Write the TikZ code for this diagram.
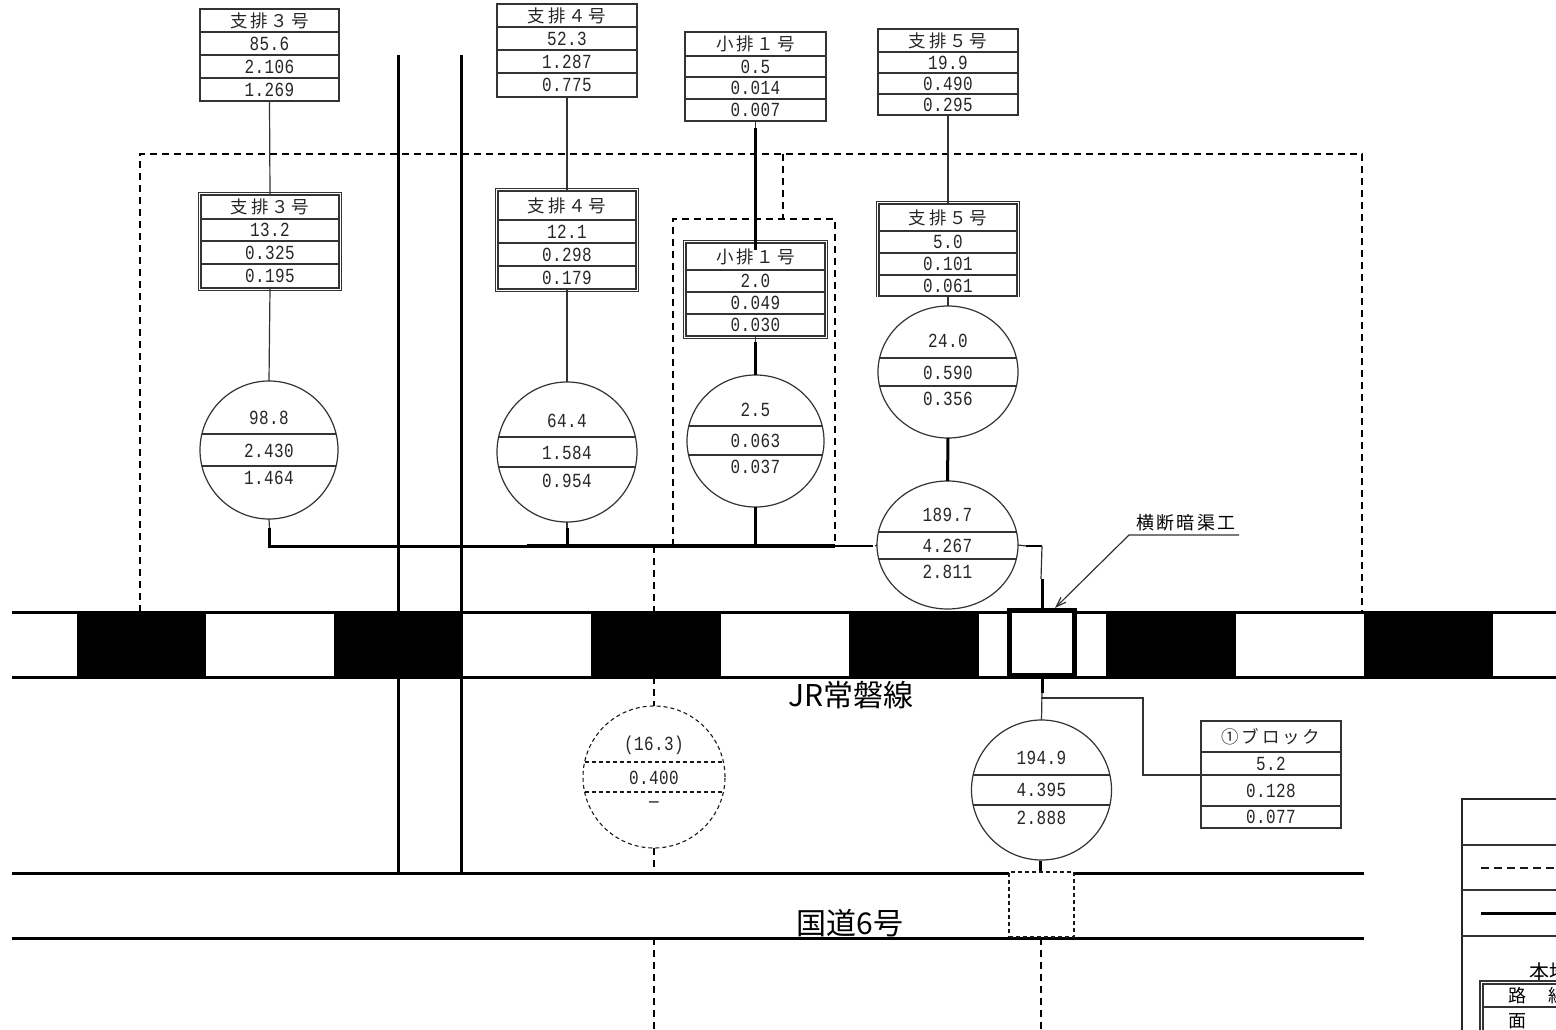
\documentclass[tikz,border=0pt]{standalone}
\usepackage{fontspec}
\setmainfont{Noto Sans CJK JP}
\newfontfamily\dg[FakeStretch=0.8,LetterSpace=2]{Liberation Mono}
\newfontfamily\hd[LetterSpace=16]{Noto Sans CJK JP}
\newfontfamily\lb[LetterSpace=12]{Noto Sans CJK JP}
\usetikzlibrary{arrows.meta,shapes.geometric,calc}
\tikzset{
  thinln/.style={line width=1.2pt,draw=black!80},
  thickln/.style={line width=3pt,draw=black},
  heavy/.style={line width=3pt,draw=black},
  dashA/.style={line width=2.1pt,draw=black,dash pattern=on 7pt off 5pt},
  dashB/.style={line width=1.1pt,draw=black!90,dash pattern=on 4pt off 3pt},
  cell/.style={draw=black!80,line width=1.2pt,inner sep=0pt,outer sep=0pt,anchor=center},
  txt/.style={inner sep=0pt,outer sep=0pt,anchor=center},
  numtxt/.style={txt,font=\fontsize{20}{20}\selectfont\dg,text=black!85},
}
\newcommand{\row}[7]{% name cx w ytop ybot text style
  \pgfmathsetmacro{\hh}{#5-#4}\pgfmathsetmacro{\mm}{(#5+#4)/2}%
  \node[cell,minimum width=#3pt,minimum height=\hh pt,#7] (#1) at (#2,\mm) {#6};%
}
\newcommand{\tbox}[6]{% name cx w ys head vals
  \tboxy{#1}{#2}{#3}#4\relax
  \row{#1H}{#2}{#3}{\ya}{\yb}{#5}{font=\fontsize{17.5}{18}\selectfont\hd,text=black!85}%
  \tboxv{#1}{#2}{#3}#6\relax
}
\def\tboxy#1#2#3#4,#5,#6,#7,#8\relax{\def\ya{#4}\def\yb{#5}\def\yc{#6}\def\yd{#7}\def\ye{#8}}
\def\tboxv#1#2#3#4,#5,#6\relax{%
  \row{#1A}{#2}{#3}{\yb}{\yc}{#4}{numtxt,cell}%
  \row{#1B}{#2}{#3}{\yc}{\yd}{#5}{numtxt,cell}%
  \row{#1C}{#2}{#3}{\yd}{\ye}{#6}{numtxt,cell}%
}
\newcommand{\circnode}[9]{%
  \node[ellipse,#9,fill=white,inner sep=0pt,outer sep=0pt,minimum width=#4*2pt,minimum height=#5*2pt] (#1) at (#2,#3) {};%
  \foreach \yy in {#6,#7}{%
    \pgfmathsetmacro{\hw}{#4*sqrt(1-((\yy-#3)/#5)^2)}%
    \draw[#9] ({#2-\hw},\yy) -- ({#2+\hw},\yy);}%
  \foreach \tt/\ty/\ss in {#8}{\node[numtxt] (#1\ss) at (#2,\ty) {\tt};}%
}
\begin{document}
\begin{tikzpicture}[x=1pt,y=-1pt]
\useasboundingbox (0,0) rectangle (1556,1030);
% ---- rail band and road
\foreach \xa/\xb in {77/206,334/463,591/721,849/979,1106/1236,1364/1493}
  \fill[black] (\xa,612) rectangle (\xb,677);
\coordinate (railLa) at (12,612); \coordinate (railRa) at (1556,612);
\coordinate (railLb) at (12,677); \coordinate (railRb) at (1556,677);
\draw[heavy] (railLa) -- (railRa);
\draw[heavy] (railLb) -- (railRb);
\coordinate (rdLa) at (12,873); \coordinate (rdMa) at (1009,873); \coordinate (rdMb) at (1074,873); \coordinate (rdRa) at (1364,873);
\coordinate (rdLb) at (12,938); \coordinate (rdRb) at (1364,938);
\draw[heavy] (rdLa) -- (rdMa);
\draw[heavy] (rdMb) -- (rdRa);
\draw[heavy] (rdLb) -- (rdRb);
% ---- verticals
\coordinate (v1a) at (398,55); \coordinate (v1b) at (398,873);
\coordinate (v2a) at (461.5,55); \coordinate (v2b) at (461.5,873);
\draw[heavy] (v1a) -- (v1b);
\draw[heavy] (v2a) -- (v2b);
% ---- dashed
\coordinate (dA) at (140,612); \coordinate (dB) at (140,154); \coordinate (dC) at (1362,154); \coordinate (dD) at (1362,612);
\draw[dashA] (dA) -- (dB) -- (dC) -- (dD);
\coordinate (dE) at (783,154); \coordinate (dF) at (783,219);
\draw[dashA] (dE) -- (dF);
\coordinate (dG) at (673,546); \coordinate (dH) at (673,219); \coordinate (dI) at (835,219); \coordinate (dJ) at (835,546);
\draw[dashA] (dG) -- (dH) -- (dI) -- (dJ);
\coordinate (dK) at (654,546); \coordinate (dL) at (654,612);
\coordinate (dM) at (654,677); \coordinate (dN) at (654,706);
\coordinate (dO) at (654,848); \coordinate (dP) at (654,873);
\coordinate (dQ) at (654,938); \coordinate (dR) at (654,1030);
\coordinate (dS) at (1041,938); \coordinate (dT) at (1041,1030);
\draw[dashA] (dK) -- (dL);
\draw[dashA] (dM) -- (dN);
\draw[dashA] (dO) -- (dP);
\draw[dashA] (dQ) -- (dR);
\draw[dashA] (dS) -- (dT);
% ---- tables
\tbox{tt}{269.5}{139}{9,32,55,78,101}{支排３号}{85.6,2.106,1.269}
\tbox{ta}{567}{140}{4,27,50,73,97}{支排４号}{52.3,1.287,0.775}
\tbox{tc}{755.5}{141}{32,56,77,99,121}{小排１号}{0.5,0.014,0.007}
\tbox{td}{948}{140}{29,52,73,94,115}{支排５号}{19.9,0.490,0.295}
\tbox{bt}{270}{138}{195,219,241,264,288}{支排３号}{13.2,0.325,0.195}
\tbox{ba}{567}{138}{191,220,243,266,289}{支排４号}{12.1,0.298,0.179}
\tbox{bc}{755.5}{139}{243,270,292,314,336}{小排１号}{2.0,0.049,0.030}
\tbox{bd}{948}{138}{204,231,253,275,296}{支排５号}{5.0,0.101,0.061}
\tbox{bl}{1271}{140}{721,752,775,806,828}{①ブロック}{5.2,0.128,0.077}
% double outer frames
\draw[thinln] ($(btH.north west)+(-2.5,-2.5)$) rectangle ($(btC.south east)+(2.5,2.5)$);
\draw[thinln] ($(baH.north west)+(-2.5,-2.5)$) rectangle ($(baC.south east)+(2.5,2.5)$);
\draw[thinln] ($(bcH.north west)+(-2.5,-2.5)$) rectangle ($(bcC.south east)+(2.5,2.5)$);
\draw[thinln] ($(bdC.south west)+(-2.5,1)$) -- ($(bdH.north west)+(-2.5,-2.5)$) -- ($(bdH.north east)+(2.5,-2.5)$) -- ($(bdC.south east)+(2.5,1)$);
% ---- circles
\circnode{cs}{269}{450}{69}{69}{434}{466}{98.8/418/a,2.430/451/b,1.464/478/c}{thinln}
\circnode{ca}{567}{452}{70}{70}{437}{467}{64.4/421/a,1.584/453/b,0.954/481/c}{thinln}
\circnode{cc}{755.5}{441}{68.5}{66}{426}{455}{2.5/410/a,0.063/441/b,0.037/467/c}{thinln}
\circnode{cd}{948}{372}{70}{66}{358}{386}{24.0/341/a,0.590/373/b,0.356/399/c}{thinln}
\circnode{ce}{947.5}{545}{70.5}{64}{532}{559}{189.7/515/a,4.267/546/b,2.811/572/c}{thinln}
\circnode{cf}{654}{777}{71}{71}{762}{792}{(16.3)/745/a,0.400/778/b,—/805/c}{dashB}
\circnode{cg}{1041.5}{790}{70}{70}{775}{805}{194.9/758/a,4.395/790/b,2.888/818/c}{thinln}
% ---- connectors: top tables
\draw[thinln] (ttC.south) -- (btH.north);
\draw[thinln] (taC.south) -- (baH.north);
\draw[thinln] (tdC.south) -- (bdH.north);
\draw[thinln] (btC.south) -- (cs.north);
\draw[thinln] (baC.south) -- (ca.north);
\draw[thinln] (bdC.south) -- (cd.north);
\coordinate (kc1) at (755.5,128); \coordinate (kc2) at (755.5,250);
\draw[thinln] (tcC.south) -- (kc1);
\draw[thickln] (kc1) -- (kc2);
\coordinate (kc3) at (755.5,342);
\draw[thinln] (bcC.south) -- (kc3);
\draw[thickln] (kc3) -- (cc.north);
\draw[thickln] (cd.south) -- (ce.north);
% ---- main collector
\coordinate (h1) at (269.5,528); \coordinate (h2) at (269.5,546);
\coordinate (h3) at (873,546); \coordinate (h7) at (527,546); \coordinate (h8) at (835,546);
\draw[thinln] (cs.south) -- (h1);
\draw[thickln,line join=miter,line width=3pt] (h1) -- (h2) -- (h7);
\draw[thickln,line width=3.6pt] (h7) -- (h8);
\draw[thickln,line width=2.2pt] (h8) -- (h3);
\coordinate (h4) at (567,528); \coordinate (h5) at (567,546);
\draw[thinln] (ca.south) -- (h4);
\draw[thickln] (h4) -- (h5);
\coordinate (h6) at (755.5,546);
\draw[thickln] (cc.south) -- (h6);
\coordinate (h9) at (875,546);
\draw[thinln] (h9) -- (ce.west);
\coordinate (e1) at (1026,546); \coordinate (e2) at (1042,546); \coordinate (e3) at (1041,579); \coordinate (e4) at (1042,579);
\draw[thinln] (ce.east) -- (e1);
\draw[thickln,line width=2.2pt] (e1) -- (e2);
\draw[thinln] (e2) -- (e3);
\node[draw=black,line width=5pt,inner sep=0pt,outer sep=0pt,minimum width=65pt,minimum height=65pt,fill=white] (culv) at (1042,643) {};
\draw[thickln] (e4) -- (e4 |- culv.north);
\coordinate (f1) at (1042,693); \coordinate (f2) at (1041,698);
\draw[thickln] (e4 |- culv.south) -- (f1);
\draw[thinln] (f1) -- (cg.north);
\coordinate (f3) at (1143,698);
\coordinate (f4) at (1143,775);
\draw[thinln] (f2) -- (f3) -- (f4) -- (blB.north west);
\coordinate (g1) at (1040,861);
\coordinate (g2) at (1040,872);
\draw[thickln] (g1) -- (g2);
\node[dashB,draw,inner sep=0pt,outer sep=0pt,minimum width=65pt,minimum height=65pt] (rdbox) at (1041.5,904.5) {};
% ---- leader
\node[txt,font=\fontsize{18}{18}\selectfont\lb,text=black] (lead) at (1186,523) {横断暗渠工};
\coordinate (l1) at (1239,535); \coordinate (l2) at (1129,535); \coordinate (l3) at (1055,608);
\draw[thinln,-{Straight Barb[length=10pt,width=7pt]}] (l1) -- (l2) -- (l3);
% ---- labels
\node[txt,font=\fontsize{30}{30}\selectfont] (jr) at (851,695) {JR常磐線};
\node[txt,font=\fontsize{30}{30}\selectfont] (kd) at (850,923) {国道6号};
% ---- legend (cut by the page edge)
\coordinate (la) at (1462,799); \coordinate (lb) at (1462,1030); \coordinate (lc) at (1556,799);
\draw[line width=1.3pt,draw=black!85] (lb) -- (la) -- (lc);
\foreach \yy in {845,890,936}{\draw[thinln,line width=1.3pt] (1462,\yy) -- (1556,\yy);}
\coordinate (ld1) at (1481,868); \coordinate (ld2) at (1556,868);
\draw[dashB,dash pattern=on 8pt off 5pt] (ld1) -- (ld2);
\coordinate (ls1) at (1481,913); \coordinate (ls2) at (1556,913);
\draw[heavy] (ls1) -- (ls2);
\begin{scope}
\clip (1400,940) rectangle (1556,1030);
\node[txt,font=\fontsize{20}{20}\selectfont,anchor=west] (hon) at (1529,972) {本地};
\draw[thinln] (1556,981) -- (1480,981) -- (1480,1030);
\draw[thinln] (1556,984) -- (1483,984) -- (1483,1030);
\draw[thinln] (1483,1007) -- (1556,1007);
\node[txt,font=\fontsize{18}{18}\selectfont,anchor=west] (ro) at (1508,996) {路};
\node[txt,font=\fontsize{18}{18}\selectfont,anchor=west] (ros) at (1548,996) {線};
\node[txt,font=\fontsize{18}{18}\selectfont,anchor=west] (men) at (1508,1021) {面};
\end{scope}
\end{tikzpicture}
\end{document}
